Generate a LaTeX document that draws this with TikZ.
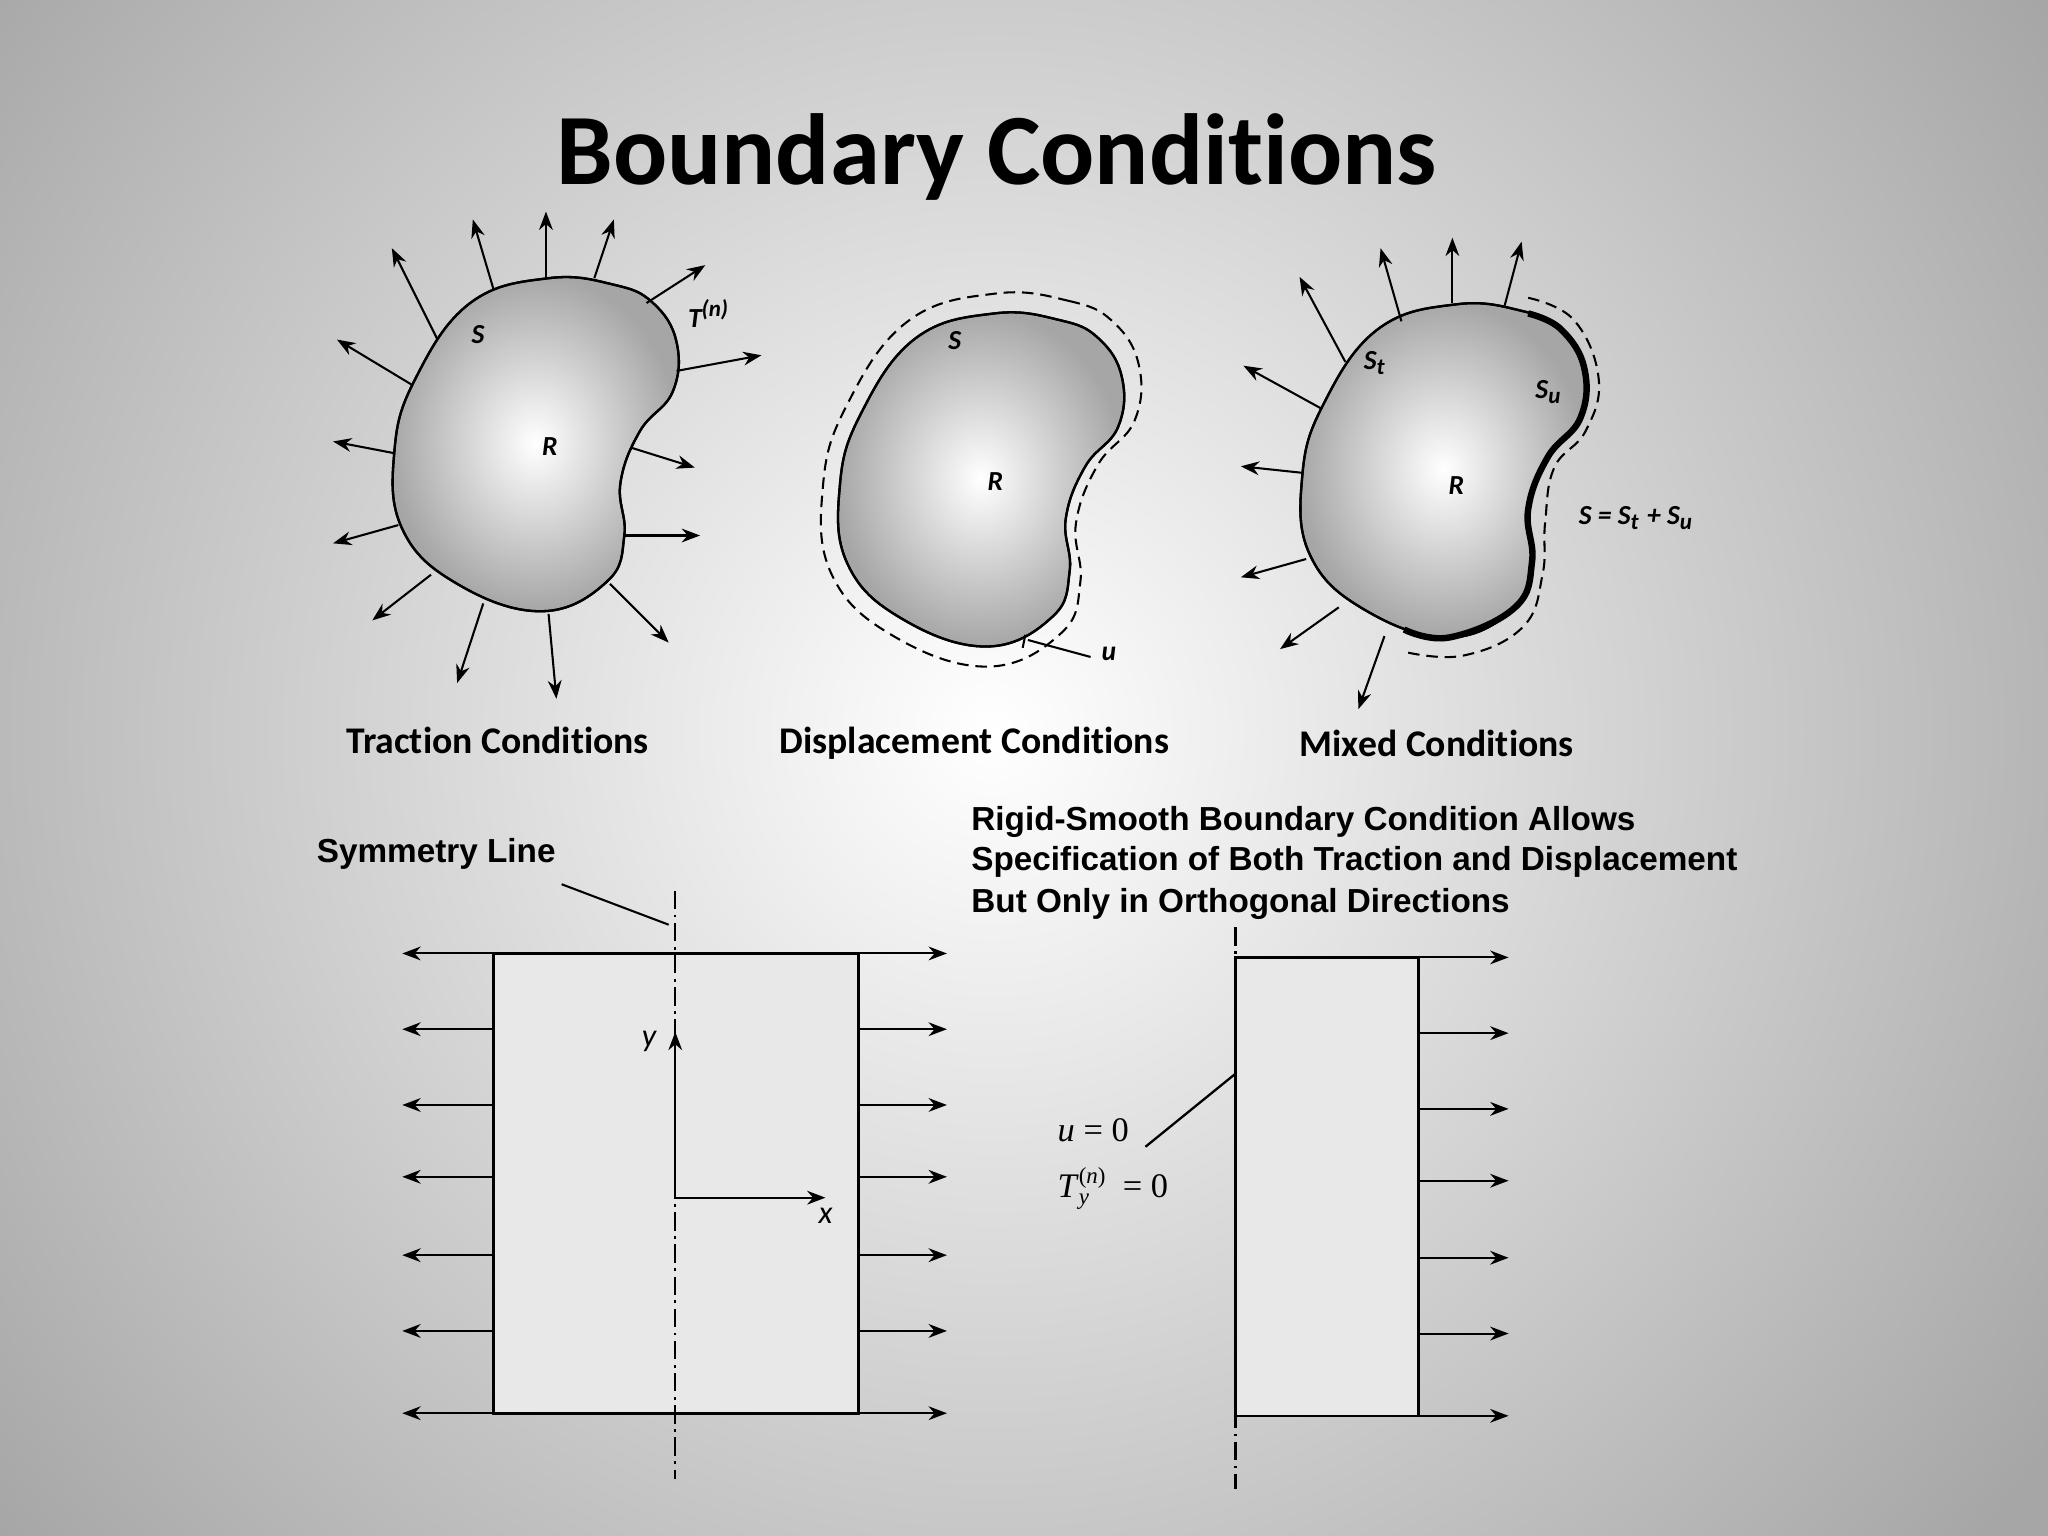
\documentclass[tikz,border=0pt]{standalone}
\usepackage{fontspec}
\setmainfont[Ligatures=NoCommon]{Carlito}
\newfontfamily\arialf{Liberation Sans}
\newfontfamily\timesf{Liberation Serif}
\usetikzlibrary{arrows.meta}
\newcommand\blobpath{plot[smooth cycle,tension=0.7] coordinates {(420,213) (470,218) (500,232) (518,262) (515,300) (490,330) (475,370) (478,410) (465,445) (415,468) (350,447) (308,405) (302,345) (318,290) (360,232)}}
\tikzset{
  blob/.style={draw=black,line width=0.5pt,inner color=white,outer color=gray!70},
  ar/.style={-{Stealth[length=4pt,width=3pt]},line width=0.45pt},
  lbl/.style={font=\bfseries\itshape\fontsize{6}{7}\selectfont,inner sep=0pt},
  captxt/.style={font=\bfseries\fontsize{8.2}{9.5}\selectfont,inner sep=0pt},
  rtext/.style={font=\arialf\bfseries\fontsize{7.25}{8}\selectfont,inner sep=0pt,anchor=west},
  dd/.style={dash pattern=on 4pt off 1.2pt on 0.6pt off 1.2pt,line width=0.45pt}
}
\begin{document}
\begin{tikzpicture}[x=0.01cm,y=-0.01cm]
\useasboundingbox (0,0) rectangle (1568,1176);
\fill[gray!70] (0,0) rectangle (1568,1176);
\begin{scope}
\clip (0,0) rectangle (1568,1176);
\shade[inner color=white,outer color=gray!70] (760,560) circle (980);
\end{scope}
\node[font=\bfseries\fontsize{22}{26}\selectfont,inner sep=0pt] (title) at (763,120) {Boundary Conditions};
% blob 1
\shade[blob] \blobpath;
\draw[line width=0.5pt] \blobpath;
\foreach \xa/\ya/\xb/\yb [count=\i] in {335/260/300/190, 378/222/362/168, 418/213/418/162, 455/213/470/168, 495/232/540/203, 518/284/583/272, 484/343/532/358, 478/410/536/410, 467/447/512/492, 420/470/426/535, 370/462/350/523, 330/440/285/475, 305/402/255/416, 302/347/255/338, 316/295/258/260}
  {\coordinate (s\i) at (\xa,\ya); \coordinate (e\i) at (\xb,\yb); \draw[ar] (s\i) -- (e\i);}
\node[lbl] (S1) at (366,256) {S};
\node[lbl] (T1) at (543,240) {T\textsuperscript{(n)}};
\node[lbl] (R1) at (421,342) {R};
\node[captxt] (c1) at (381,567) {Traction Conditions};
% blob 2
\begin{scope}[shift={(341,27)}]
\shade[blob] \blobpath;
\draw[line width=0.5pt] \blobpath;
\begin{scope}[shift={(410,340)},scale=1.12,shift={(-410,-340)}]
\draw[line width=0.45pt,dash pattern=on 2.5pt off 1.5pt] \blobpath;
\end{scope}
\end{scope}
\node[lbl] (S2) at (731,261) {S};
\node[lbl] (R2) at (762,369) {R};
\coordinate (u1) at (787,490);
\coordinate (u2) at (835,503);
\draw[line width=0.45pt] (u1) -- (u2);
\draw[line width=0.45pt] (785,486) -- (783,496);
\node[lbl] (u) at (849,501) {u};
\node[captxt] (c2) at (746,569) {Displacement Conditions};
% blob 3
\begin{scope}[shift={(695,20)}]
\shade[blob] \blobpath;
\draw[line width=0.5pt] \blobpath;
\draw[line width=1.4pt] plot[smooth,tension=0.7] coordinates {(475,220) (500,232) (518,262) (515,300) (490,330) (475,370) (478,410) (465,445) (415,468) (380,462)};
\end{scope}
\draw[line width=0.45pt,dash pattern=on 2.5pt off 1.5pt] plot[smooth,tension=0.7] coordinates {(1170,228) (1205,245) (1224,290) (1214,330) (1190,358) (1183,400) (1181,440) (1166,480) (1120,502) (1075,499)};
\foreach \xa/\ya/\xb/\yb [count=\i] in {1030/277/995/212, 1073/246/1057/190, 1112/232/1112/182, 1152/234/1165/185, 1012/313/952/280, 997/362/950/357, 1000/428/950/442, 1025/465/980/497, 1060/487/1040/543}
  {\coordinate (m\i) at (\xa,\ya); \coordinate (n\i) at (\xb,\yb); \draw[ar] (m\i) -- (n\i);}
\node[lbl] (S3) at (1053,278) {S\textsubscript{t}};
\node[lbl] (Su3) at (1186,300) {S\textsubscript{u}};
\node[lbl] (R3) at (1115,372) {R};
\node[lbl] (eq3) at (1253,397) {S = S\textsubscript{t} + S\textsubscript{u}};
\node[captxt] (c3) at (1100,569) {Mixed Conditions};
% bottom left
\node[draw,line width=0.6pt,fill=gray!18,minimum width=2.79cm,minimum height=3.52cm,inner sep=0pt] (rl) at (517.5,906) {};
\draw[dd] (517,682) -- (517,1132);
\foreach \yy in {730,788,846,901,961,1019,1082}{
  \draw[ar] (378,\yy) -- (308,\yy);
  \draw[ar] (657,\yy) -- (725,\yy);}
\coordinate (o) at (517,917);
\draw[ar] (o) -- (517,790);
\draw[ar] (o) -- (632,917);
\node[font=\itshape\fontsize{7}{8}\selectfont,inner sep=0pt] (ly) at (497,797) {y};
\node[font=\itshape\fontsize{7}{8}\selectfont,inner sep=0pt] (lx) at (632,931) {x};
\node[font=\arialf\bfseries\fontsize{7.25}{8}\selectfont,inner sep=0pt] (sym) at (334,654) {Symmetry Line};
\draw[line width=0.45pt] (430,677) -- (512,708);
% bottom right
\node[rtext] (t1) at (743,629) {Rigid-Smooth Boundary Condition Allows};
\node[rtext] (t2) at (743,660) {Specification of Both Traction and Displacement};
\node[rtext] (t3) at (743,692) {But Only in Orthogonal Directions};
\node[draw,line width=0.6pt,fill=gray!18,minimum width=1.40cm,minimum height=3.51cm,inner sep=0pt] (rr) at (1016,908.5) {};
\draw[dd,line width=0.8pt] (946,710) -- (946,1140);
\foreach \yy in {733,791,849,904,963,1021,1084}{
  \draw[ar] (1086,\yy) -- (1155,\yy);}
\node[font=\timesf\fontsize{7.5}{9}\selectfont,inner sep=0pt] (u0) at (837,865) {\textit{u} = 0};
\node[font=\timesf\fontsize{7.5}{9}\selectfont,inner sep=0pt] (ty) at (852,910) {\textit{T}\raisebox{-1.5pt}{\rlap{\fontsize{5}{6}\selectfont\textit{y}}}\raisebox{3pt}{\fontsize{5}{6}\selectfont(\textit{n})}\ \ = 0};
\draw[line width=0.5pt] (877,878) -- (946,822);
\end{tikzpicture}
\end{document}
